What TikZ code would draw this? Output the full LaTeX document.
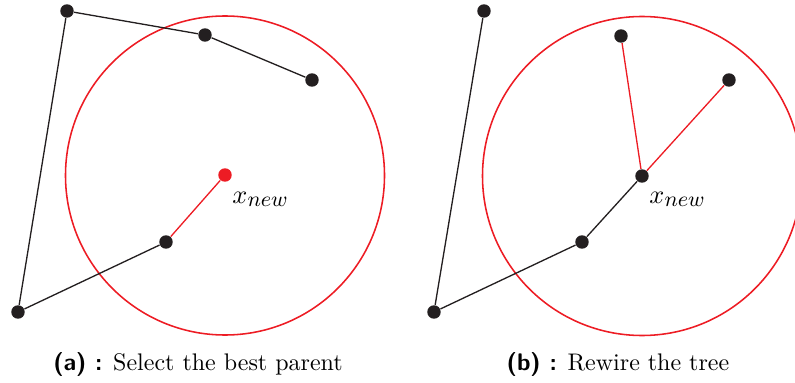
\documentclass[tikz,border=0pt]{standalone}
\definecolor{nodeblack}{RGB}{35,31,32}
\definecolor{treered}{RGB}{237,28,36}
\newcommand{\xnewlabel}{$x_{\mbox{\fontsize{9.3}{10}\selectfont$new$}}$}
\begin{document}
\begin{tikzpicture}[x=0.4167pt,y=-0.4167pt,
  vertex/.style={circle,fill=nodeblack,inner sep=0pt,minimum size=5.6pt},
  newvertex/.style={circle,fill=treered,inner sep=0pt,minimum size=5.6pt},
  blackedge/.style={draw=nodeblack,line width=0.55pt},
  rededge/.style={draw=treered,line width=0.55pt},
  nearcircle/.style={draw=treered,line width=0.65pt},
  lbltext/.style={anchor=base west,inner sep=0pt,font=\fontsize{10.5}{12}\selectfont},
  captext/.style={anchor=base,inner sep=0pt}]
\useasboundingbox (0,0) rectangle (795,383);
% left panel
\coordinate (ca) at (225,175.5);
\draw[nearcircle] (ca) circle[radius=159.5];
\node[vertex] (a1) at (67,11) {};
\node[vertex] (a2) at (205,35) {};
\node[vertex] (a3) at (312,80) {};
\node[newvertex] (ax) at (225,175) {};
\node[vertex] (a5) at (166,242) {};
\node[vertex] (a6) at (18,312) {};
\draw[blackedge] (a6) -- (a1);
\draw[blackedge] (a1) -- (a2);
\draw[blackedge] (a2) -- (a3);
\draw[blackedge] (a6) -- (a5);
\draw[rededge] (a5) -- (ax);
\node[lbltext] (axl) at (232,203) {\xnewlabel};
\node[captext] (capa) at (198,370) {{\sffamily\bfseries (a) :} Select the best parent};
% right panel
\coordinate (cb) at (642,176);
\draw[nearcircle] (cb) circle[radius=159.5];
\node[vertex] (b1) at (484,11) {};
\node[vertex] (b2) at (621,36) {};
\node[vertex] (b3) at (729,80) {};
\node[vertex] (bx) at (642,176) {};
\node[vertex] (b5) at (582,242) {};
\node[vertex] (b6) at (434,312) {};
\draw[blackedge] (b6) -- (b1);
\draw[blackedge] (b6) -- (b5);
\draw[blackedge] (b5) -- (bx);
\draw[rededge] (bx) -- (b2);
\draw[rededge] (bx) -- (b3);
\node[lbltext] (bxl) at (649,203) {\xnewlabel};
\node[captext] (capb) at (618,370) {{\sffamily\bfseries (b) :} Rewire the tree};
\end{tikzpicture}
\end{document}
